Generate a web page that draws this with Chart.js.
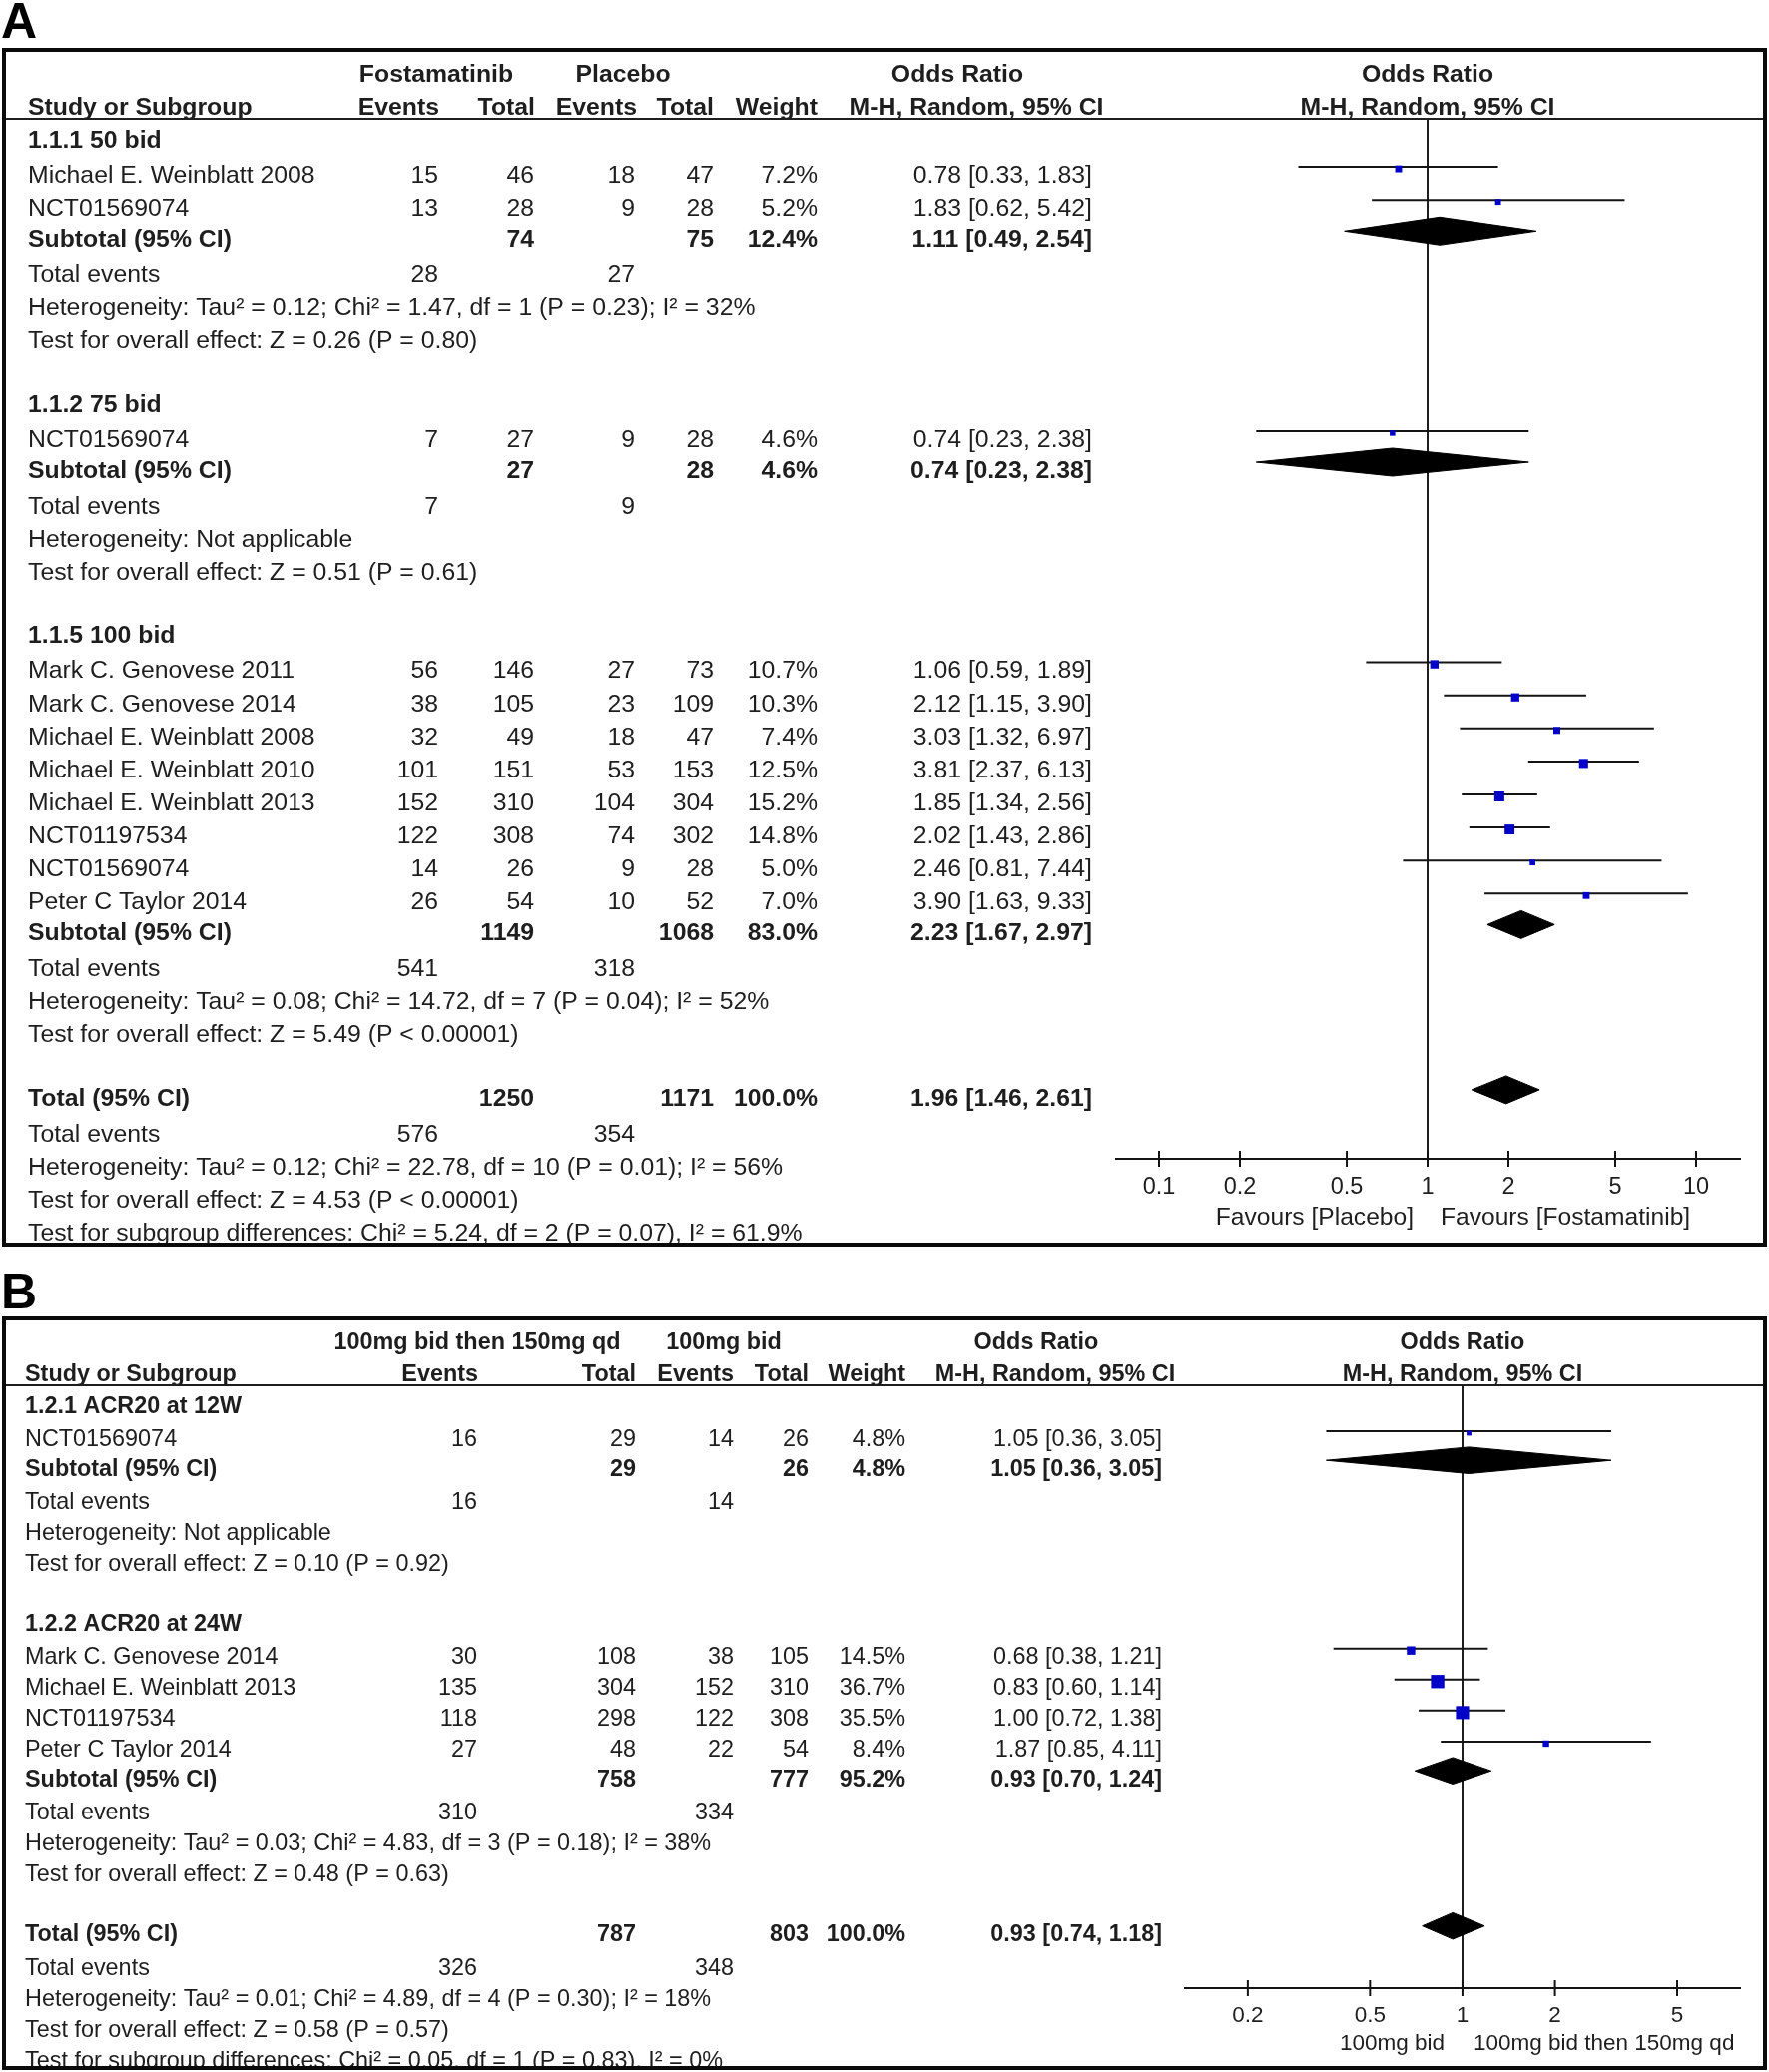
<!DOCTYPE html>
<html>
<head>
<meta charset="utf-8">
<script src="https://cdn.jsdelivr.net/npm/chart.js@4.4.1/dist/chart.umd.min.js"></script>
<style>
html,body{margin:0;padding:0;background:#ffffff;}
#wrap{position:relative;width:1772px;height:2076px;overflow:hidden;background:#fff;}
canvas{position:absolute;left:0;}
</style>
</head>
<body>
<div id="wrap">
<canvas id="cA" width="1772" height="1260" style="top:0px"></canvas>
<canvas id="cB" width="1772" height="816" style="top:1260px"></canvas>
</div>
<script>
// ---------------- Panel A data ----------------
const aStudyNames = ['Michael E. Weinblatt 2008','NCT01569074','NCT01569074','Mark C. Genovese 2011','Mark C. Genovese 2014','Michael E. Weinblatt 2008','Michael E. Weinblatt 2010','Michael E. Weinblatt 2013','NCT01197534','NCT01569074','Peter C Taylor 2014'];
const aStudyGroup = [0,0,1,2,2,2,2,2,2,2,2];
const aExpEvents = [15,13,7,56,38,32,101,152,122,14,26];
const aExpTotal  = [46,28,27,146,105,49,151,310,308,26,54];
const aCtlEvents = [18,9,9,27,23,18,53,104,74,9,10];
const aCtlTotal  = [47,28,28,73,109,47,153,304,302,28,52];
const aWeight    = [7.2,5.2,4.6,10.7,10.3,7.4,12.5,15.2,14.8,5.0,7.0];
const aOR        = [0.78,1.83,0.74,1.06,2.12,3.03,3.81,1.85,2.02,2.46,3.90];
const aLow       = [0.33,0.62,0.23,0.59,1.15,1.32,2.37,1.34,1.43,0.81,1.63];
const aHigh      = [1.83,5.42,2.38,1.89,3.90,6.97,6.13,2.56,2.86,7.44,9.33];
const aGroupNames   = ['1.1.1 50 bid','1.1.2 75 bid','1.1.5 100 bid'];
const aSubExpTotal  = [74,27,1149];
const aSubCtlTotal  = [75,28,1068];
const aSubExpEvents = [28,7,541];
const aSubCtlEvents = [27,9,318];
const aSubWeight    = [12.4,4.6,83.0];
const aSubOR        = [1.11,0.74,2.23];
const aSubLow       = [0.49,0.23,1.67];
const aSubHigh      = [2.54,2.38,2.97];
const aSubHet  = ['Heterogeneity: Tau\u00B2 = 0.12; Chi\u00B2 = 1.47, df = 1 (P = 0.23); I\u00B2 = 32%','Heterogeneity: Not applicable','Heterogeneity: Tau\u00B2 = 0.08; Chi\u00B2 = 14.72, df = 7 (P = 0.04); I\u00B2 = 52%'];
const aSubTest = ['Test for overall effect: Z = 0.26 (P = 0.80)','Test for overall effect: Z = 0.51 (P = 0.61)','Test for overall effect: Z = 5.49 (P < 0.00001)'];
const aTotalN      = [1250,1171];
const aTotalEvents = [576,354];
const aTotalWeight = 100.0;
const aTotalOR     = [1.96,1.46,2.61];
const aTotalNotes  = ['Heterogeneity: Tau\u00B2 = 0.12; Chi\u00B2 = 22.78, df = 10 (P = 0.01); I\u00B2 = 56%','Test for overall effect: Z = 4.53 (P < 0.00001)','Test for subgroup differences: Chi\u00B2 = 5.24, df = 2 (P = 0.07), I\u00B2 = 61.9%'];
const aHeadTop   = ['Fostamatinib','Placebo','Odds Ratio'];
const aHeadSub   = ['Study or Subgroup','Events','Total','Events','Total','Weight','M-H, Random, 95% CI'];
const aTicks     = [0.1,0.2,0.5,1,2,5,10];
const aAxisRange = [0.0686,14.7];
const aFavours   = ['Favours [Placebo]','Favours [Fostamatinib]'];

// ---------------- Panel B data ----------------
const bStudyNames = ['NCT01569074','Mark C. Genovese 2014','Michael E. Weinblatt 2013','NCT01197534','Peter C Taylor 2014'];
const bStudyGroup = [0,1,1,1,1];
const bExpEvents = [16,30,135,118,27];
const bExpTotal  = [29,108,304,298,48];
const bCtlEvents = [14,38,152,122,22];
const bCtlTotal  = [26,105,310,308,54];
const bWeight    = [4.8,14.5,36.7,35.5,8.4];
const bOR        = [1.05,0.68,0.83,1.00,1.87];
const bLow       = [0.36,0.38,0.60,0.72,0.85];
const bHigh      = [3.05,1.21,1.14,1.38,4.11];
const bGroupNames   = ['1.2.1 ACR20 at 12W','1.2.2 ACR20 at 24W'];
const bSubExpTotal  = [29,758];
const bSubCtlTotal  = [26,777];
const bSubExpEvents = [16,310];
const bSubCtlEvents = [14,334];
const bSubWeight    = [4.8,95.2];
const bSubOR        = [1.05,0.93];
const bSubLow       = [0.36,0.70];
const bSubHigh      = [3.05,1.24];
const bSubHet  = ['Heterogeneity: Not applicable','Heterogeneity: Tau\u00B2 = 0.03; Chi\u00B2 = 4.83, df = 3 (P = 0.18); I\u00B2 = 38%'];
const bSubTest = ['Test for overall effect: Z = 0.10 (P = 0.92)','Test for overall effect: Z = 0.48 (P = 0.63)'];
const bTotalN      = [787,803];
const bTotalEvents = [326,348];
const bTotalWeight = 100.0;
const bTotalOR     = [0.93,0.74,1.18];
const bTotalNotes  = ['Heterogeneity: Tau\u00B2 = 0.01; Chi\u00B2 = 4.89, df = 4 (P = 0.30); I\u00B2 = 18%','Test for overall effect: Z = 0.58 (P = 0.57)','Test for subgroup differences: Chi\u00B2 = 0.05, df = 1 (P = 0.83), I\u00B2 = 0%'];
const bHeadTop   = ['100mg bid then 150mg qd','100mg bid','Odds Ratio'];
const bHeadSub   = ['Study or Subgroup','Events','Total','Events','Total','Weight','M-H, Random, 95% CI'];
const bTicks     = [0.2,0.5,1,2,5];
const bAxisRange = [0.124,8.07];
const bFavours   = ['100mg bid','100mg bid then 150mg qd'];

// ---------------- helpers ----------------
const FONT = '"Liberation Sans", Arial, Helvetica, sans-serif';
const TXT = '#1e1e1e';
const fmtPct = w => w.toFixed(1) + '%';
const fmtOR = (o,l,h) => o.toFixed(2) + ' [' + l.toFixed(2) + ', ' + h.toFixed(2) + ']';

function buildRows(d){
  const gap = {
    group:{study:1.06},
    study:{study:1, subtotal:0.94},
    subtotal:{events:1.08},
    total:{events:1.08},
    events:{note:1},
    note:{note:1, group:1.92, total:1.92}
  };
  const rows = []; let r = 0; let prev = null;
  const add = (kind, obj) => { if (prev !== null) r += gap[prev][kind]; obj.kind = kind; obj.r = r; rows.push(obj); prev = kind; };
  d.groupNames.forEach((gname, g) => {
    add('group', {label:gname, bold:true});
    d.names.forEach((n, i) => {
      if (d.group[i] === g) add('study', {label:n, i:i, cells:[d.expE[i], d.expN[i], d.ctlE[i], d.ctlN[i], fmtPct(d.w[i]), fmtOR(d.or[i], d.lo[i], d.hi[i])]});
    });
    add('subtotal', {label:'Subtotal (95% CI)', bold:true, ci:[d.subOR[g], d.subLo[g], d.subHi[g]],
      cells:['', d.subExpN[g], '', d.subCtlN[g], fmtPct(d.subW[g]), fmtOR(d.subOR[g], d.subLo[g], d.subHi[g])]});
    add('events', {label:'Total events', cells:[d.subExpE[g], '', d.subCtlE[g], '', '', '']});
    add('note', {label:d.subHet[g]});
    add('note', {label:d.subTest[g]});
  });
  add('total', {label:'Total (95% CI)', bold:true, ci:d.totOR,
    cells:['', d.totN[0], '', d.totN[1], fmtPct(d.totW), fmtOR(d.totOR[0], d.totOR[1], d.totOR[2])]});
  add('events', {label:'Total events', cells:[d.totE[0], '', d.totE[1], '', '', '']});
  d.totNotes.forEach(t => add('note', {label:t}));
  return rows;
}

function drawText(ctx, s, x, yc, align, bold, size){
  ctx.font = (bold ? 'bold ' : '') + size + 'px ' + FONT;
  ctx.textAlign = align;
  ctx.textBaseline = 'alphabetic';
  ctx.fillStyle = TXT;
  ctx.fillText(String(s), x, yc + 0.358 * size);
}

function makePanel(canvasId, d, L){
  const rows = buildRows(d);
  const off = L.top;
  const g0 = L.firstRowPx - L.textDrop;
  const yMin = (L.areaTop - g0) / L.unit;
  const yMax = (L.areaBottom - g0) / L.unit;
  const studyRows = rows.filter(rw => rw.kind === 'study');
  const diamRows = rows.filter(rw => rw.kind === 'subtotal' || rw.kind === 'total');
  const h = L.diamHalf / L.unit;
  const sqDrop = L.sqDrop / L.unit;

  const datasets = [];
  datasets.push({
    type:'scatter',
    data: studyRows.map(rw => ({x:d.or[rw.i], y:rw.r + sqDrop})),
    pointStyle:'rect',
    pointRadius: studyRows.map(rw => L.sqK * Math.sqrt(d.w[rw.i]) / Math.SQRT2),
    backgroundColor:'#0000c8', borderWidth:0, order:0
  });
  studyRows.forEach(rw => datasets.push({
    type:'line',
    data:[{x:d.lo[rw.i], y:rw.r}, {x:d.hi[rw.i], y:rw.r}],
    borderColor:'#141414', borderWidth:2, pointRadius:0, fill:false, tension:0, order:2
  }));
  diamRows.forEach(rw => {
    const o = rw.ci[0], lo = rw.ci[1], hi = rw.ci[2];
    datasets.push({
      type:'line',
      data:[{x:lo,y:rw.r},{x:o,y:rw.r - h},{x:hi,y:rw.r},{x:o,y:rw.r + h},{x:lo,y:rw.r}],
      borderColor:'#000', backgroundColor:'#000', borderWidth:1, pointRadius:0, fill:'shape', tension:0, order:1
    });
  });

  const decor = {
    id:'decor_' + canvasId,
    beforeDatasetsDraw(chart){
      const ctx = chart.ctx, xs = chart.scales.x, area = chart.chartArea;
      const px = Math.round(xs.getPixelForValue(1));
      ctx.save();
      ctx.strokeStyle = '#1e1e1e'; ctx.lineWidth = 2;
      ctx.beginPath(); ctx.moveTo(px, area.top); ctx.lineTo(px, area.bottom); ctx.stroke();
      ctx.restore();
    },
    afterDraw(chart){
      const ctx = chart.ctx, xs = chart.scales.x, ys = chart.scales.y, area = chart.chartArea;
      const Y = v => v - off;
      const one = xs.getPixelForValue(1);
      ctx.save();
      // x axis
      ctx.strokeStyle = '#141414'; ctx.lineWidth = 2;
      ctx.beginPath(); ctx.moveTo(area.left, area.bottom); ctx.lineTo(area.right, area.bottom); ctx.stroke();
      d.ticks.forEach(t => {
        const px = xs.getPixelForValue(t);
        ctx.beginPath(); ctx.moveTo(px, area.bottom - 8); ctx.lineTo(px, area.bottom + 8); ctx.stroke();
        drawText(ctx, String(t), px, area.bottom + L.tickLabelDy, 'center', false, L.tickFont);
      });
      drawText(ctx, d.favours[0], one - L.legendGapL, area.bottom + L.legendDy, 'right', false, L.legendFont);
      drawText(ctx, d.favours[1], one + L.legendGapR, area.bottom + L.legendDy, 'left', false, L.legendFont);

      // table text, clipped to the box
      ctx.save();
      ctx.beginPath();
      ctx.rect(L.box[0], Y(L.box[1]), L.box[2] - L.box[0], L.box[3] - L.box[1] - 2);
      ctx.clip();
      const hy1 = Y(L.head1Y), hy2 = Y(L.head2Y);
      drawText(ctx, d.headTop[0], L.head1X[0], hy1, 'center', true, L.font);
      drawText(ctx, d.headTop[1], L.head1X[1], hy1, 'center', true, L.font);
      drawText(ctx, d.headTop[2], L.head1X[2], hy1, 'center', true, L.font);
      drawText(ctx, d.headTop[2], one, hy1, 'center', true, L.font);
      drawText(ctx, d.headSub[0], L.labelX, hy2, 'left', true, L.font);
      for (let k = 1; k <= 5; k++) drawText(ctx, d.headSub[k], L.head2X[k - 1], hy2, 'right', true, L.font);
      drawText(ctx, d.headSub[6], L.head2X[5], hy2, 'center', true, L.font);
      drawText(ctx, d.headSub[6], one, hy2, 'center', true, L.font);

      rows.forEach(rw => {
        const ty = ys.getPixelForValue(rw.r) + L.textDrop;
        drawText(ctx, rw.label, L.labelX, ty, 'left', !!rw.bold, L.font);
        if (rw.cells) rw.cells.forEach((c, k) => {
          if (c !== '' && c !== null) drawText(ctx, c, L.colX[k], ty, 'right', !!rw.bold, L.font);
        });
      });
      ctx.restore();

      // header rule
      ctx.strokeStyle = '#1e1e1e'; ctx.lineWidth = 2;
      ctx.beginPath(); ctx.moveTo(L.box[0], Y(L.headLineY)); ctx.lineTo(L.box[2], Y(L.headLineY)); ctx.stroke();
      // box
      ctx.strokeStyle = '#0a0a0a'; ctx.lineWidth = 4;
      ctx.strokeRect(L.box[0], Y(L.box[1]), L.box[2] - L.box[0], L.box[3] - L.box[1]);
      // panel letter
      ctx.font = 'bold ' + L.letterSize + 'px ' + FONT;
      ctx.textAlign = 'left'; ctx.textBaseline = 'alphabetic'; ctx.fillStyle = '#000';
      ctx.fillText(L.letter, 1, Y(L.letterBase));
      ctx.restore();
    }
  };

  return new Chart(document.getElementById(canvasId), {
    type:'scatter',
    data:{datasets:datasets},
    options:{
      responsive:false, maintainAspectRatio:false, animation:false, devicePixelRatio:1, events:[],
      layout:{padding:{left:L.areaLeft, right:1772 - L.areaRight, top:L.areaTop - off, bottom:off + L.height - L.areaBottom}},
      plugins:{legend:{display:false}, tooltip:{enabled:false}, title:{display:false}},
      scales:{
        x:{type:'logarithmic', min:d.axis[0], max:d.axis[1], bounds:'data', display:false},
        y:{type:'linear', min:yMin, max:yMax, reverse:true, bounds:'data', display:false}
      }
    },
    plugins:[decor]
  });
}

const dataA = {
  names:aStudyNames, group:aStudyGroup, expE:aExpEvents, expN:aExpTotal, ctlE:aCtlEvents, ctlN:aCtlTotal,
  w:aWeight, or:aOR, lo:aLow, hi:aHigh, groupNames:aGroupNames,
  subExpN:aSubExpTotal, subCtlN:aSubCtlTotal, subExpE:aSubExpEvents, subCtlE:aSubCtlEvents,
  subW:aSubWeight, subOR:aSubOR, subLo:aSubLow, subHi:aSubHigh, subHet:aSubHet, subTest:aSubTest,
  totN:aTotalN, totE:aTotalEvents, totW:aTotalWeight, totOR:aTotalOR, totNotes:aTotalNotes,
  headTop:aHeadTop, headSub:aHeadSub, ticks:aTicks, axis:aAxisRange, favours:aFavours
};
const dataB = {
  names:bStudyNames, group:bStudyGroup, expE:bExpEvents, expN:bExpTotal, ctlE:bCtlEvents, ctlN:bCtlTotal,
  w:bWeight, or:bOR, lo:bLow, hi:bHigh, groupNames:bGroupNames,
  subExpN:bSubExpTotal, subCtlN:bSubCtlTotal, subExpE:bSubExpEvents, subCtlE:bSubCtlEvents,
  subW:bSubWeight, subOR:bSubOR, subLo:bSubLow, subHi:bSubHigh, subHet:bSubHet, subTest:bSubTest,
  totN:bTotalN, totE:bTotalEvents, totW:bTotalWeight, totOR:bTotalOR, totNotes:bTotalNotes,
  headTop:bHeadTop, headSub:bHeadSub, ticks:bTicks, axis:bAxisRange, favours:bFavours
};

makePanel('cA', dataA, {
  top:0, height:1260, unit:33.1, firstRowPx:139, textDrop:7,
  areaLeft:1117, areaRight:1744, areaTop:119, areaBottom:1161,
  sqK:2.57, sqDrop:2, diamHalf:14,
  font:24.8, tickFont:23.5, legendFont:24.6, tickLabelDy:27, legendDy:57, legendGapL:14, legendGapR:13,
  labelX:28, colX:[439,535,636,715,819,1094],
  head1Y:73, head2Y:106, headLineY:119,
  head1X:[437,624,959], head2X:[440,536,638,715,819,978],
  box:[4,50,1768,1247], letter:'A', letterSize:50, letterBase:38
});

makePanel('cB', dataB, {
  top:1260, height:816, unit:31.1, firstRowPx:1408, textDrop:7,
  areaLeft:1186, areaRight:1744, areaTop:1388, areaBottom:1992,
  sqK:2.2, sqDrop:2, diamHalf:13.3,
  font:23.4, tickFont:22.5, legendFont:22.5, tickLabelDy:26, legendDy:54, legendGapL:18, legendGapR:11,
  labelX:25, colX:[478,637,735,810,907,1164],
  head1Y:1344, head2Y:1376, headLineY:1388,
  head1X:[478,725,1038], head2X:[479,637,735,810,907,1057],
  box:[4,1321,1768,2072], letter:'B', letterSize:50, letterBase:1311
});
</script>
</body>
</html>
